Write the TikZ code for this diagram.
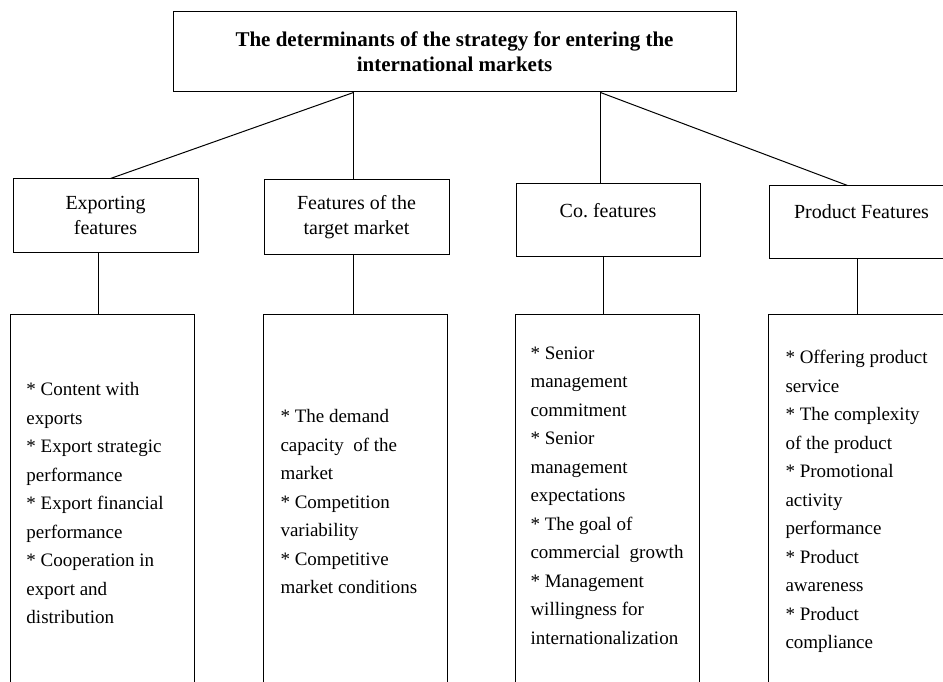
\documentclass[tikz,border=0pt]{standalone}
\usepackage{fontspec}
\setmainfont{Liberation Serif}
\frenchspacing
\begin{document}
\begin{tikzpicture}[x=1pt,y=-1pt, line width=1pt,
  box/.style={draw, inner sep=0pt, align=center, font=\fontsize{20}{25}\selectfont},
  tall/.style={draw, inner sep=0pt, minimum width=184pt, minimum height=420pt, anchor=north},
  list/.style={inner sep=0pt, anchor=north west, align=left, font=\fontsize{19}{28.5}\selectfont},
  link/.style={draw, line width=1pt}]
\useasboundingbox (0,0) rectangle (943,682);
\clip (0,0) rectangle (943,682);
\node[box, minimum width=563pt, minimum height=80pt, font=\bfseries\fontsize{21}{25}\selectfont] (top) at (454.5,52) {The determinants of the strategy for entering the\\international markets};
\node[box, minimum width=185pt, minimum height=73pt] (u1) at (105.5,215.5) {Exporting\\features};
\node[box, minimum width=185pt, minimum height=74pt] (u2) at (356.5,217) {Features of the\\target market};
\node[box, minimum width=184pt, minimum height=72pt, text depth=20pt] (u3) at (608,220) {Co.\ features};
\node[box, minimum width=185pt, minimum height=72pt, text depth=20pt] (u4) at (861.5,222) {Product Features};
\node[tall] (l1) at (102,314) {};
\node[tall] (l2) at (355,314) {};
\node[tall] (l3) at (607,314) {};
\node[tall] (l4) at (860,314) {};
\node[list] (t1) at (26,382) {* Content with\\exports\\* Export strategic\\performance\\* Export financial\\performance\\* Cooperation in\\export and\\distribution};
\node[list] (t2) at (280,409) {* The demand\\capacity\ \ of the\\market\\* Competition\\variability\\* Competitive\\market conditions};
\node[list] (t3) at (530,346) {* Senior\\management\\commitment\\* Senior\\management\\expectations\\* The goal of\\commercial\ \ growth\\* Management\\willingness for\\internationalization};
\node[list] (t4) at (785,350) {* Offering product\\service\\* The complexity\\of the product\\* Promotional\\activity\\performance\\* Product\\awareness\\* Product\\compliance};
\draw[link] ([xshift=181pt]top.south west) -- ([xshift=98pt]u1.north west);
\draw[link] ([xshift=181pt]top.south west) -- ([xshift=90pt]u2.north west);
\draw[link] ([xshift=428pt]top.south west) -- ([xshift=85pt]u3.north west);
\draw[link] ([xshift=428pt]top.south west) -- ([xshift=79pt]u4.north west);
\draw[link] ([xshift=86pt]u1.south west) -- ([xshift=89pt]l1.north west);
\draw[link] ([xshift=90pt]u2.south west) -- ([xshift=91pt]l2.north west);
\draw[link] ([xshift=88pt]u3.south west) -- ([xshift=89pt]l3.north west);
\draw[link] ([xshift=89pt]u4.south west) -- ([xshift=90pt]l4.north west);
\end{tikzpicture}
\end{document}
